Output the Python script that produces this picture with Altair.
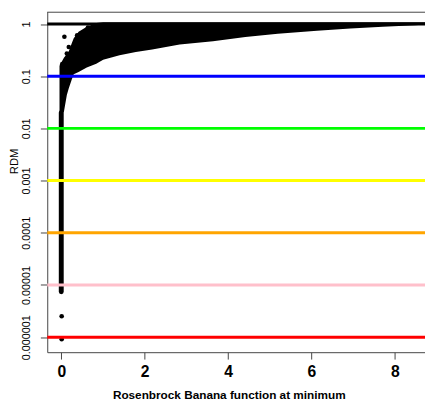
import altair as alt
import pandas as pd

# Envelope of the dense point cloud (x = function value at minimum, RDM bounds)
env_x = [-0.042, 0.064, 0.134, 0.181, 0.252, 0.299, 0.416, 0.612, 0.840, 1.005,
         1.398, 1.788, 2.181, 2.840, 3.640, 4.416, 5.193, 6.134, 6.934, 7.710,
         8.487, 8.887]
env_lower = [0.0167, 0.0208, 0.0434, 0.0587, 0.0867, 0.109, 0.120, 0.146, 0.173, 0.206,
             0.252, 0.291, 0.324, 0.407, 0.469, 0.565, 0.654, 0.745, 0.823, 0.886,
             0.949, 1.0]
env_upper = [0.159, 0.225, 0.267, 0.300, 0.430, 0.534, 0.713, 0.886, 1.04, 1.08,
             1.08, 1.08, 1.08, 1.08, 1.08, 1.08, 1.08, 1.08, 1.08, 1.08,
             1.08, 1.08]

# Dense column of points at x = 0
col_x = [0.0]
col_low = [7.4e-6]
col_high = [0.02]

# Isolated points
pts_x = [0.075, 0.181, 0.134, 0.024, 0.381, 0.640, 0.010, 0.010]
pts_y = [0.570, 0.362, 0.273, 0.170, 0.608, 0.859, 2.52e-6, 9.17e-7]

# Reference lines
ref_y = [1, 0.1, 0.01, 0.001, 0.0001, 0.00001, 0.000001]
ref_colors = ["#000000", "#0000FF", "#00FF00", "#FFFF00", "#FFA500", "#FFC0CB", "#FF0000"]

x_ticks = [0, 2, 4, 6, 8]
y_ticks = [1, 0.1, 0.01, 0.001, 0.0001, 0.00001, 0.000001]

W, H = 385, 347
AX = "#444444"

xscale = alt.Scale(domain=[-0.336, 8.724], nice=False, zero=False)
yscale = alt.Scale(type="log", domain=[5.15e-7, 1.718], nice=False)

xaxis = alt.Axis(values=x_ticks, title="Rosenbrock Banana function at minimum",
                 grid=False, domainColor=AX, tickColor=AX, tickSize=7,
                 labelFontSize=16, labelFontWeight="bold", labelColor="black",
                 labelPadding=5, titleFontSize=12, titleFontWeight="bold",
                 titleColor="black", titleX=185, titleY=47, titleAlign="center",
                 titleBaseline="alphabetic")
yaxis = alt.Axis(values=y_ticks, format=".6~f", title="RDM", grid=False,
                 domainColor=AX, tickColor=AX, tickSize=7, labelAngle=270,
                 labelAlign="center", labelBaseline="alphabetic", labelPadding=11,
                 labelFontSize=11, labelColor="black", titleFontSize=11.5,
                 titleFontWeight="normal", titleColor="black", titleAngle=270,
                 titleX=-30, titleY=152, titleAlign="center",
                 titleBaseline="alphabetic")

env_df = pd.DataFrame({"x": env_x, "lo": env_lower, "hi": env_upper})
col_df = pd.DataFrame({"x": col_x, "lo": col_low, "hi": col_high})
pts_df = pd.DataFrame({"x": pts_x, "y": pts_y})
ref_df = pd.DataFrame({"y": ref_y, "c": ref_colors})

area = alt.Chart(env_df).mark_area(color="black", clip=True).encode(
    x=alt.X("x:Q", scale=xscale, axis=xaxis),
    y=alt.Y("lo:Q", scale=yscale, axis=yaxis),
    y2="hi:Q",
)

column = alt.Chart(col_df).mark_rule(color="black", strokeWidth=5,
                                     strokeCap="round", clip=True).encode(
    x=alt.X("x:Q", scale=xscale),
    y=alt.Y("lo:Q", scale=yscale),
    y2="hi:Q",
)

points = alt.Chart(pts_df).mark_circle(color="black", opacity=1, size=22,
                                       clip=True).encode(
    x=alt.X("x:Q", scale=xscale),
    y=alt.Y("y:Q", scale=yscale),
)

refs = alt.Chart(ref_df).mark_rule(strokeWidth=3).encode(
    y=alt.Y("y:Q", scale=yscale),
    x=alt.value(0),
    x2=alt.value(W),
    color=alt.Color("c:N", scale=None),
)

top = alt.Chart(pd.DataFrame({"y": [1]})).mark_rule(color=AX, strokeWidth=1).encode(
    y=alt.value(0.5),
    x=alt.value(0),
    x2=alt.value(W),
)

chart = alt.layer(area, column, points, refs, top).properties(
    width=W, height=H,
    padding={"left": 40, "top": 0, "right": 0, "bottom": 50},
    autosize=alt.AutoSizeParams(type="none"),
).configure(font="Liberation Sans").configure_view(stroke=None)

chart.save("out.html", embed_options={"renderer": "svg", "actions": False})
